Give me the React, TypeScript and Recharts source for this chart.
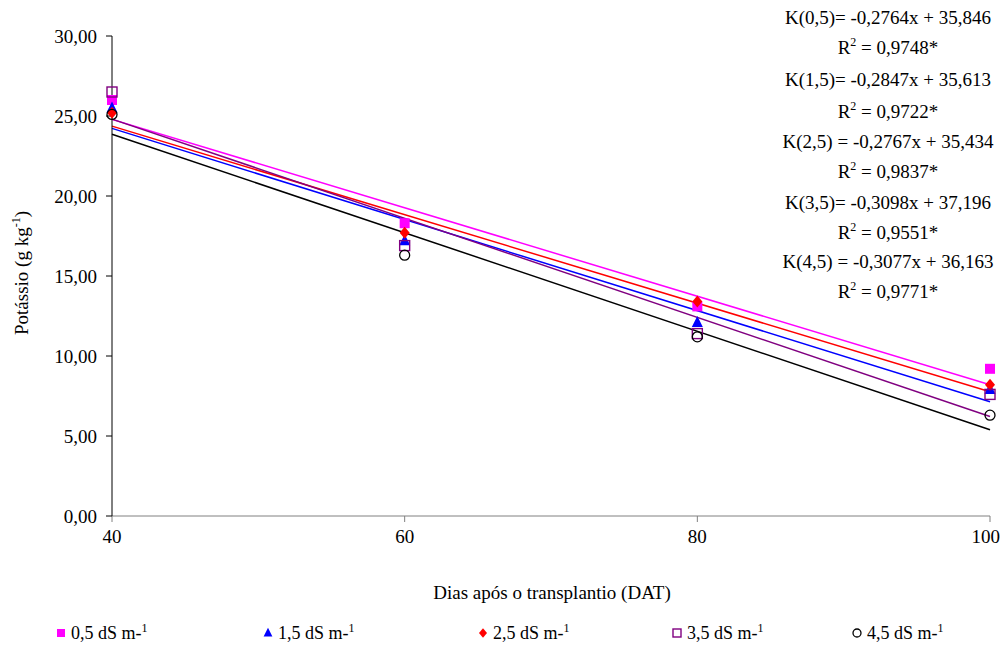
import React from 'react';
import { ComposedChart, Scatter, Line, XAxis, YAxis } from 'recharts';

const days = [40, 60, 80, 100];
const seriesLabels = ['0,5 dS m-', '1,5 dS m-', '2,5 dS m-', '3,5 dS m-', '4,5 dS m-'];
const k05 = [26.0, 18.3, 13.1, 9.2];
const k15 = [25.5, 17.2, 12.1, 7.9];
const k25 = [25.2, 17.7, 13.4, 8.2];
const k35 = [26.5, 16.9, 11.4, 7.6];
const k45 = [25.1, 16.3, 11.2, 6.3];
const slopes = [-0.2764, -0.2847, -0.2767, -0.3098, -0.3077];
const intercepts = [35.846, 35.613, 35.434, 37.196, 36.163];
const colors = ['#FF00FF', '#0000FF', '#FF0000', '#800080', '#000000'];
const xTicks = [40, 60, 80, 100];
const yTicks = [0, 5, 10, 15, 20, 25, 30];
const eqLabels = [
  'K(0,5)= -0,2764x + 35,846',
  'K(1,5)= -0,2847x + 35,613',
  'K(2,5) = -0,2767x + 35,434',
  'K(3,5)= -0,3098x + 37,196',
  'K(4,5) = -0,3077x + 36,163',
];
const r2Labels = ['0,9748*', '0,9722*', '0,9837*', '0,9551*', '0,9771*'];
const eqY = [18, 80, 142, 203, 262];
const r2Y = [48, 112, 172, 233, 292];
const legendX = [55, 262, 477, 671, 851];

const allSeries = [k05, k15, k25, k35, k45];
const FONT = '"Liberation Serif", "Times New Roman", serif';

const toPoints = (vals: number[]) => days.map((d, i) => ({ x: d, y: vals[i] }));
const trendPoints = (i: number) =>
  [days[0], days[days.length - 1]].map((d) => ({ x: d, y: intercepts[i] + slopes[i] * d }));

const Marker = ({ kind, cx, cy, s = 1 }: { kind: number; cx: number; cy: number; s?: number }) => {
  const c = colors[kind];
  if (kind === 0) return <rect x={cx - 5 * s} y={cy - 5 * s} width={10 * s} height={10 * s} fill={c} />;
  if (kind === 1)
    return (
      <polygon
        points={`${cx},${cy - 6.5 * s} ${cx - 5.5 * s},${cy + 4.5 * s} ${cx + 5.5 * s},${cy + 4.5 * s}`}
        fill={c}
      />
    );
  if (kind === 2)
    return (
      <polygon
        points={`${cx},${cy - 6 * s} ${cx + 5 * s},${cy} ${cx},${cy + 6 * s} ${cx - 5 * s},${cy}`}
        fill={c}
      />
    );
  if (kind === 3)
    return (
      <rect x={cx - 5 * s} y={cy - 5 * s} width={10 * s} height={10 * s} fill="none" stroke={c} strokeWidth={1.4} />
    );
  return <circle cx={cx} cy={cy} r={5 * s} fill="none" stroke={c} strokeWidth={1.3} />;
};

const fmtY = (v: number) => v.toFixed(2).replace('.', ',');

export default function App() {
  return (
    <div style={{ position: 'absolute', left: 0, top: 0, width: 1000, height: 646, overflow: 'hidden', background: '#fff', fontFamily: FONT }}>
      <ComposedChart width={1000} height={646} margin={{ top: 36, right: 10, left: 0, bottom: 100 }}>
        <XAxis
          type="number"
          dataKey="x"
          domain={[40, 100]}
          ticks={xTicks}
          height={30}
          stroke="#808080"
          tickSize={6}
          tickMargin={8}
          tick={{ fontFamily: FONT, fontSize: 19, fill: '#000' }}
        />
        <YAxis
          type="number"
          dataKey="y"
          domain={[0, 30]}
          ticks={yTicks}
          width={112}
          stroke="#000"
          tickSize={6}
          tickMargin={9}
          tickFormatter={fmtY}
          tick={{ fontFamily: FONT, fontSize: 19, fill: '#000' }}
        />
        {allSeries.map((_, i) => (
          <Line
            key={`t${i}`}
            data={trendPoints(i)}
            dataKey="y"
            stroke={colors[i]}
            strokeWidth={1.5}
            dot={false}
            activeDot={false}
            isAnimationActive={false}
            type="linear"
          />
        ))}
        {allSeries.map((vals, i) => (
          <Scatter
            key={`s${i}`}
            data={toPoints(vals)}
            dataKey="y"
            isAnimationActive={false}
            shape={(p: any) => <Marker kind={i} cx={p.cx} cy={p.cy} />}
          />
        ))}
      </ComposedChart>

      {eqLabels.map((t, i) => (
        <div key={`e${i}`} style={{ position: 'absolute', left: 758, width: 260, top: eqY[i] - 12, height: 24, lineHeight: '24px', textAlign: 'center', fontSize: 19, whiteSpace: 'nowrap' }}>
          {t}
        </div>
      ))}
      {r2Labels.map((t, i) => (
        <div key={`r${i}`} style={{ position: 'absolute', left: 758, width: 260, top: r2Y[i] - 12, height: 24, lineHeight: '24px', textAlign: 'center', fontSize: 19, whiteSpace: 'nowrap' }}>
          R<span style={{ fontSize: 12, verticalAlign: 8, lineHeight: 0 }}>2</span> = {t}
        </div>
      ))}

      <div style={{ position: 'absolute', left: 352, width: 400, top: 581, height: 24, lineHeight: '24px', textAlign: 'center', fontSize: 19 }}>
        Dias após o transplantio (DAT)
      </div>

      <div style={{ position: 'absolute', left: 22 - 100, top: 273 - 12, width: 200, height: 24, lineHeight: '24px', textAlign: 'center', fontSize: 19, transform: 'rotate(-90deg)', whiteSpace: 'nowrap' }}>
        Potássio (g kg<span style={{ fontSize: 12, verticalAlign: 8, lineHeight: 0 }}>-1</span>)
      </div>

      {seriesLabels.map((t, i) => (
        <div key={`l${i}`} style={{ position: 'absolute', left: legendX[i], top: 621, height: 24, lineHeight: '24px', fontSize: 18, whiteSpace: 'nowrap', display: 'flex', alignItems: 'center' }}>
          <svg width={14} height={24} style={{ display: 'block' }}>
            <Marker kind={i} cx={6} cy={12} s={0.8} />
          </svg>
          <span style={{ marginLeft: 2 }}>
            {t}
            <span style={{ fontSize: 12, verticalAlign: 7, lineHeight: 0 }}>1</span>
          </span>
        </div>
      ))}
    </div>
  );
}
